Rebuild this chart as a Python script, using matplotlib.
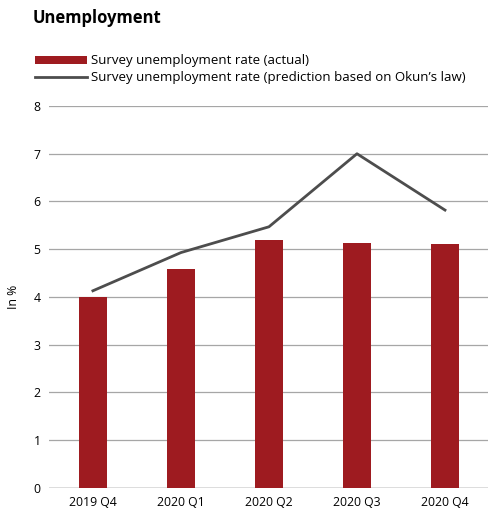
import matplotlib.pyplot as plt
from matplotlib.patches import Patch
from matplotlib.lines import Line2D

plt.rcParams['font.family'] = ['Open Sans', 'DejaVu Sans']

quarters = ['2019 Q4', '2020 Q1', '2020 Q2', '2020 Q3', '2020 Q4']
actual = [4.0, 4.58, 5.19, 5.14, 5.12]
okun = [4.13, 4.93, 5.47, 7.0, 5.82]

bar_color = '#9e1b20'
line_color = '#4d4d4d'

fig = plt.figure(figsize=(4.89, 5.14), dpi=100)
ax = fig.add_axes([0.1, 0.0506, 0.9, 0.7432])

x = range(len(quarters))
ax.bar(x, actual, width=0.31, color=bar_color, zorder=2)
ax.plot(x, okun, color=line_color, linewidth=2, zorder=3)

ax.set_xlim(-0.5, 4.5)
ax.set_ylim(0, 8)
ax.set_yticks(range(0, 9))
ax.set_xticks(list(x))
ax.set_xticklabels(quarters)
ax.tick_params(length=0, labelsize=8.8, pad=6)
ax.grid(axis='y', color='#a6a6a6', linewidth=0.9, zorder=0)
for s in ax.spines.values():
    s.set_visible(False)
ax.axhline(0, color='#808080', linewidth=1, zorder=1)
ax.set_ylabel('In %', fontsize=8.8, labelpad=10)

fig.text(0.067, 0.965, 'Unemployment', fontsize=12, fontweight='bold',
         ha='left', va='center')

handles = [Patch(facecolor=bar_color),
           Line2D([0], [0], color=line_color, linewidth=2)]
labels = ['Survey unemployment rate (actual)',
          'Survey unemployment rate (prediction based on Okun\u2019s law)']
fig.legend(handles, labels, loc='upper left', bbox_to_anchor=(0.071, 0.894),
           frameon=False, fontsize=9.5, handlelength=4.0, handleheight=0.6,
           handletextpad=0.3, labelspacing=0.3, borderpad=0, borderaxespad=0)

fig.savefig('out.png', dpi=100)
